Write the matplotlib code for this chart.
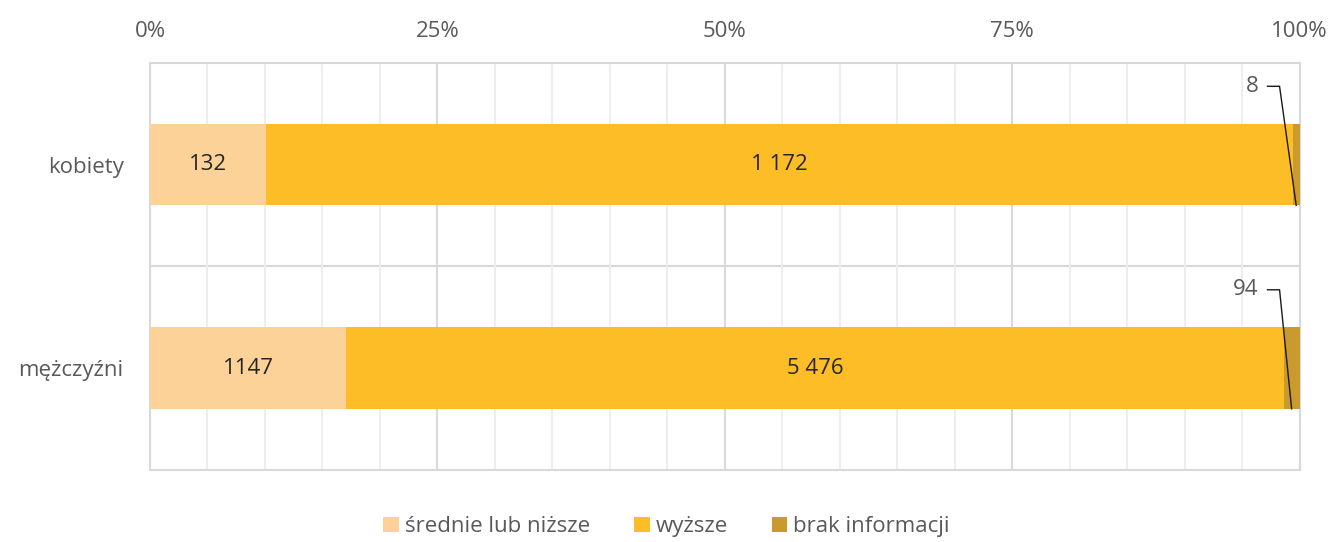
import numpy as np
import matplotlib.pyplot as plt
from matplotlib.ticker import MultipleLocator, FuncFormatter

# === DATA ===
categories = ['kobiety', 'mężczyźni']
series_names = ['średnie lub niższe', 'wyższe', 'brak informacji']
srednie = [132, 1147]
wyzsze = [1172, 5476]
brak = [8, 94]
label_text = [['132', '1 172', '8'], ['1147', '5 476', '94']]

colors = ['#FCD299', '#FDBD26', '#C99A2E']
grey_txt = '#595959'
grid_major = '#D9D9D9'
grid_minor = '#EDEDED'
FS = 16

plt.rcParams['font.family'] = ['Open Sans', 'DejaVu Sans']

values = np.array([srednie, wyzsze, brak], dtype=float)
shares = values / values.sum(axis=0) * 100

fig = plt.figure(figsize=(13.33, 5.42), dpi=100)
ax = fig.add_axes([0.1125, 0.133, 0.8625, 0.751])

y = np.arange(len(categories))
bar_h = 0.40
left = np.zeros(len(categories))
for k in range(3):
    ax.barh(y, shares[k], left=left, height=bar_h, color=colors[k],
            label=series_names[k], zorder=3)
    for i in range(len(categories)):
        if k < 2:
            ax.text(left[i] + shares[k][i] / 2, y[i], label_text[i][k],
                    ha='center', va='center', fontsize=FS, color='#262626', zorder=4)
        else:
            # small segment: label above with leader line
            xe = left[i] + shares[k][i] / 2
            ye = y[i] + bar_h / 2
            lx, ly = 96.4, y[i] - 0.385
            ax.text(lx, ly, label_text[i][k], ha='right', va='center',
                    fontsize=FS, color=grey_txt, zorder=4)
            x0 = lx + 0.8
            cx = x0 + 1.05
            ax.plot([x0, cx, xe], [ly, ly, ye], color='#1a1a1a', lw=1.0,
                    zorder=5, solid_joinstyle='miter')
    left += shares[k]

ax.set_xlim(0, 100)
ax.set_ylim(-0.5, 1.5)
ax.invert_yaxis()

ax.xaxis.set_major_locator(MultipleLocator(25))
ax.xaxis.set_minor_locator(MultipleLocator(5))
ax.xaxis.set_major_formatter(FuncFormatter(lambda v, p: f'{int(v)}%'))
ax.xaxis.tick_top()
ax.tick_params(axis='x', which='both', length=0, pad=15, labelsize=FS, labelcolor=grey_txt)
ax.grid(axis='x', which='major', color=grid_major, lw=1.5, zorder=0)
ax.grid(axis='x', which='minor', color=grid_minor, lw=1.3, zorder=0)

ax.set_yticks(y)
ax.set_yticklabels(categories)
ax.tick_params(axis='y', length=0, pad=19, labelsize=FS, labelcolor=grey_txt)
ax.axhline(0.5, color=grid_major, lw=1.5, zorder=1)

for s in ax.spines.values():
    s.set_color(grid_major)
    s.set_linewidth(1.5)

fig.legend(loc='center', bbox_to_anchor=(0.5, 0.028), ncol=3, frameon=False,
           fontsize=FS, labelcolor=grey_txt, handlelength=0.7, handleheight=0.7,
           handletextpad=0.25, columnspacing=2.0)

fig.savefig('out.png', dpi=100)
